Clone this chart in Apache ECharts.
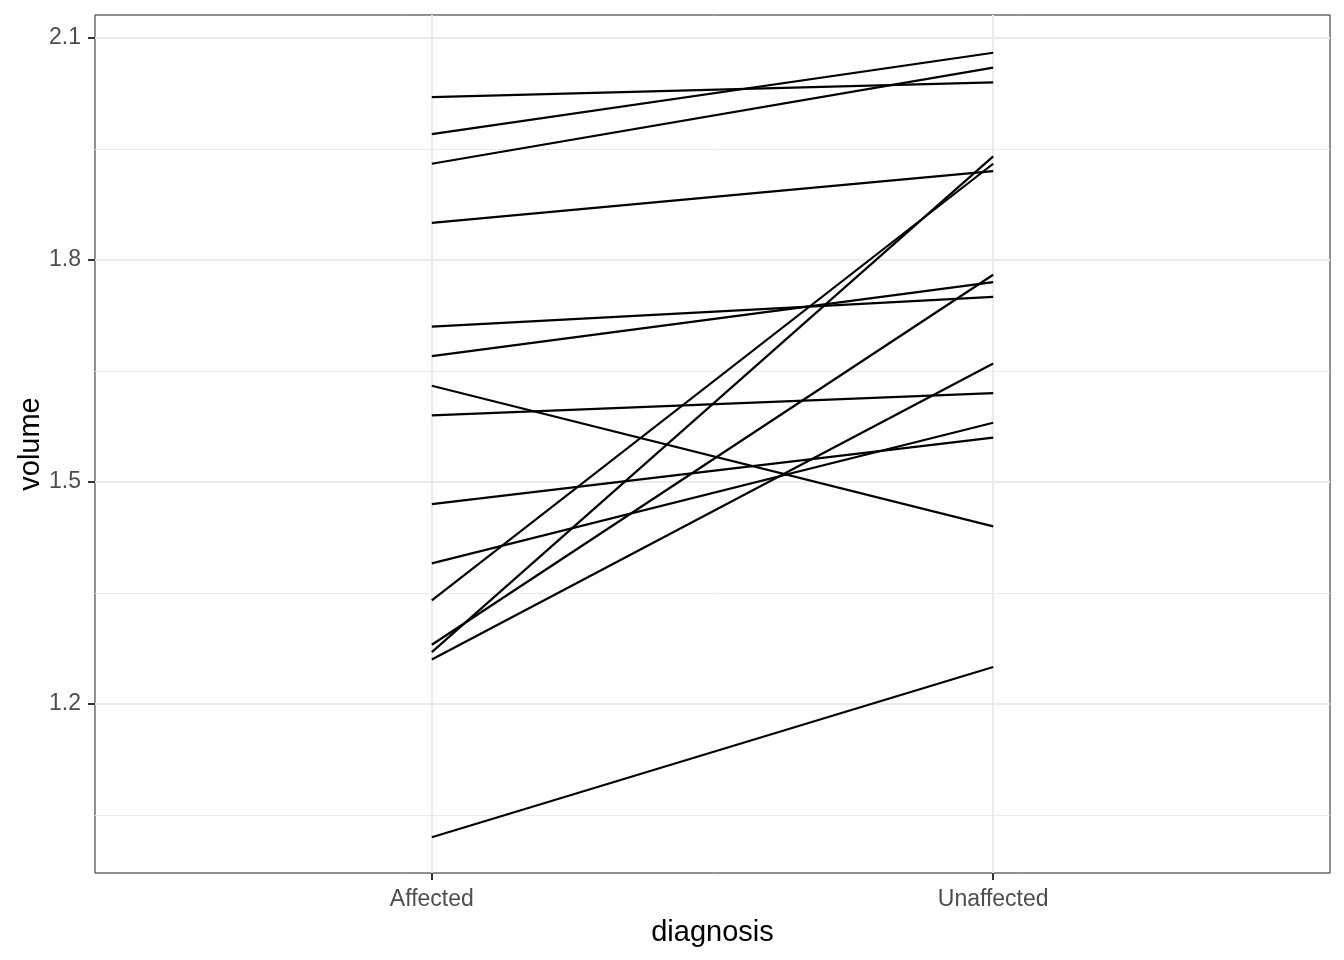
<!DOCTYPE html>
<html>
<head>
<meta charset="utf-8">
<script src="https://cdn.jsdelivr.net/npm/echarts@6/dist/echarts.min.js"></script>
<style>html,body{margin:0;padding:0;background:#fff}#c{width:1344px;height:960px}</style>
</head>
<body>
<div id="c"></div>
<script>
const categories = ['Affected', 'Unaffected'];
const affected   = [1.27, 1.63, 1.47, 1.39, 1.93, 1.26, 1.71, 1.67, 1.28, 1.85, 1.02, 1.34, 2.02, 1.59, 1.97];
const unaffected = [1.94, 1.44, 1.56, 1.58, 2.06, 1.66, 1.75, 1.77, 1.78, 1.92, 1.25, 1.93, 2.04, 1.62, 2.08];
const yMajor = [1.2, 1.5, 1.8, 2.1];
const yMinor = [1.05, 1.35, 1.65, 1.95];

const font = 'Liberation Sans, Arial, Helvetica, sans-serif';
const chart = echarts.init(document.getElementById('c'), null, {renderer: 'canvas'});

const pairSeries = affected.map((a, i) => ({
  type: 'line',
  data: [[1, a], [2, unaffected[i]]],
  showSymbol: false,
  symbol: 'none',
  silent: true,
  z: 5,
  lineStyle: {color: '#000', width: 2.2}
}));

const gridSeries = {
  type: 'line',
  data: [],
  silent: true,
  z: 1,
  markLine: {
    silent: true,
    symbol: 'none',
    label: {show: false},
    animation: false,
    data: [
      ...yMinor.map(v => ({yAxis: v, lineStyle: {color: '#ebebeb', width: 1, type: 'solid'}})),
      ...yMajor.map(v => ({yAxis: v, lineStyle: {color: '#ebebeb', width: 2, type: 'solid'}})),
      ...categories.map((c, i) => ({xAxis: i + 1, lineStyle: {color: '#ebebeb', width: 2, type: 'solid'}}))
    ]
  }
};

chart.setOption({
  animation: false,
  grid: {left: 95, right: 14, top: 15, bottom: 87, show: true, borderColor: '#222', borderWidth: 1, backgroundColor: 'transparent'},
  xAxis: {
    type: 'value', min: 0.4, max: 2.6,
    name: 'diagnosis', nameLocation: 'middle', nameGap: 45, nameMoveOverlap: false,
    nameTextStyle: {color: '#000', fontSize: 29, fontFamily: font},
    axisLine: {show: false},
    splitLine: {show: false},
    axisTick: {show: true, length: 7, lineStyle: {color: '#333', width: 2}, customValues: [1, 2]},
    axisLabel: {customValues: [1, 2], margin: 15, color: '#4d4d4d', fontSize: 23, fontFamily: font,
      formatter: v => categories[Math.round(v) - 1] || ''}
  },
  yAxis: {
    type: 'value', min: 0.9716, max: 2.131,
    name: 'volume', nameLocation: 'middle', nameGap: 50, nameRotate: 90, nameMoveOverlap: false,
    nameTextStyle: {color: '#000', fontSize: 29, fontFamily: font},
    axisLine: {show: false},
    splitLine: {show: false},
    axisTick: {show: true, length: 7, lineStyle: {color: '#333', width: 2}, customValues: yMajor},
    axisLabel: {customValues: yMajor, margin: 14, color: '#4d4d4d', fontSize: 23, fontFamily: font,
      formatter: v => v.toFixed(1)}
  },
  series: [gridSeries, ...pairSeries]
});
</script>
</body>
</html>
